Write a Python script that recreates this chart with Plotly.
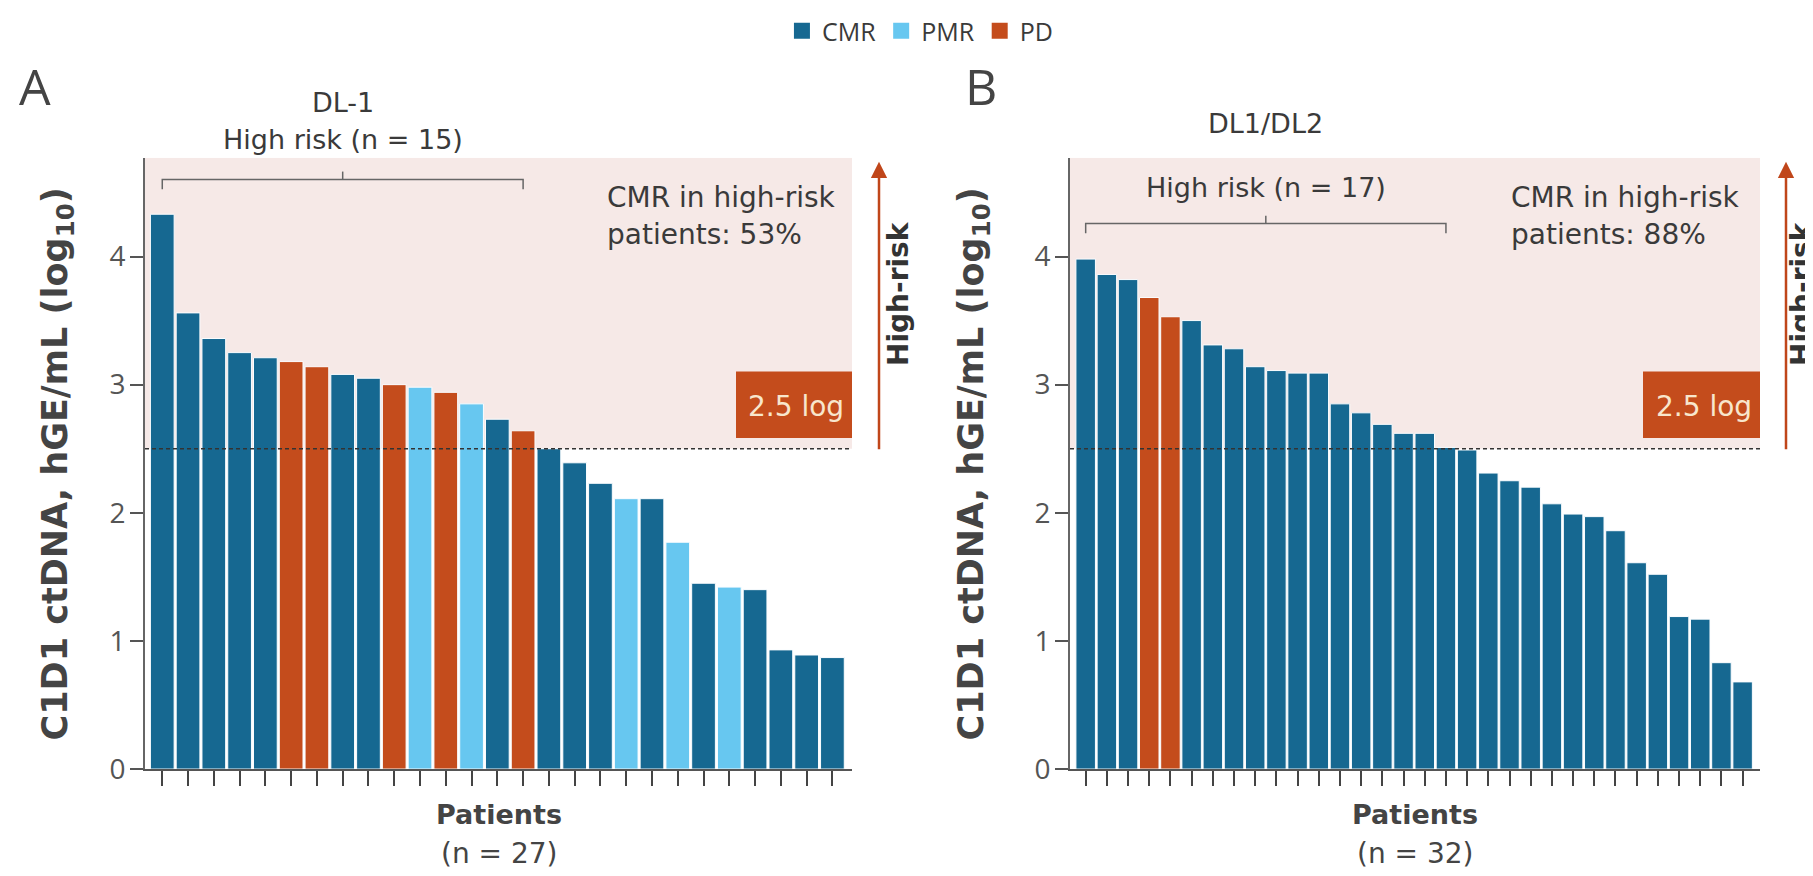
import plotly.graph_objects as go

# ---------------- data ----------------
status_a = ["CMR", "CMR", "CMR", "CMR", "CMR", "PD", "PD", "CMR", "CMR", "PD",
            "PMR", "PD", "PMR", "CMR", "PD", "CMR", "CMR", "CMR", "PMR", "CMR",
            "PMR", "CMR", "PMR", "CMR", "CMR", "CMR", "CMR"]
values_a = [4.33, 3.56, 3.36, 3.25, 3.21, 3.18, 3.14, 3.08, 3.05, 3.00,
            2.98, 2.94, 2.85, 2.73, 2.64, 2.50, 2.39, 2.23, 2.11, 2.11,
            1.77, 1.45, 1.42, 1.40, 0.93, 0.89, 0.87]

status_b = ["CMR", "CMR", "CMR", "PD", "PD", "CMR", "CMR", "CMR", "CMR", "CMR",
            "CMR", "CMR", "CMR", "CMR", "CMR", "CMR", "CMR", "CMR", "CMR", "CMR",
            "CMR", "CMR", "CMR", "CMR", "CMR", "CMR", "CMR", "CMR", "CMR", "CMR",
            "CMR", "CMR"]
values_b = [3.98, 3.86, 3.82, 3.68, 3.53, 3.50, 3.31, 3.28, 3.14, 3.11,
            3.09, 3.09, 2.85, 2.78, 2.69, 2.62, 2.62, 2.51, 2.49, 2.31,
            2.25, 2.20, 2.07, 1.99, 1.97, 1.86, 1.61, 1.52, 1.19, 1.17,
            0.83, 0.68]

categories = ["CMR", "PMR", "PD"]
colors = {"CMR": "#166891", "PMR": "#67c7f0", "PD": "#c44c1c"}
y_ticks = [0, 1, 2, 3, 4]
threshold = 2.5
y_max = 4.77
high_risk_a = 15
high_risk_b = 17
bracket_bars_a = 15
bracket_bars_b = 18

W, H = 1813, 876
DX = -3
FONT = "DejaVu Sans"
TICKFONT = "Open Sans"
TXT = "#3a3a3a"


def px(x):
    return (x + DX) / W


def py(y):
    return 1 - y / H


fig = go.Figure()

bar_style = dict(marker_line_width=1, marker_line_color="#fbfdff", width=0.92)
for cat in categories:
    xa = [i for i, s in enumerate(status_a) if s == cat]
    ya = [values_a[i] for i in xa]
    fig.add_trace(go.Bar(x=xa, y=ya, name=cat, marker_color=colors[cat],
                         legendgroup=cat, xaxis="x", yaxis="y",
                         showlegend=False, **bar_style))
    xb = [i for i, s in enumerate(status_b) if s == cat]
    yb = [values_b[i] for i in xb]
    fig.add_trace(go.Bar(x=xb, y=yb, name=cat, marker_color=colors[cat],
                         legendgroup=cat, xaxis="x2", yaxis="y2",
                         showlegend=False, **bar_style))

# legend entries (square swatches)
for cat in categories:
    fig.add_trace(go.Scatter(x=[None], y=[None], mode="markers", name=cat,
                             legendgroup=cat, showlegend=True,
                             marker=dict(symbol="square", size=16, color=colors[cat]),
                             xaxis="x", yaxis="y"))

n_a, n_b = len(values_a), len(values_b)
dom_a = [px(140), px(847)]
dom_b = [px(1065), px(1755)]
dom_y = [py(777), py(153)]

xcommon = dict(showline=True, linecolor="#555", linewidth=2, ticks="outside",
               ticklen=15, tickwidth=2, tickcolor="#444", showgrid=False,
               zeroline=False, showticklabels=False)
ycommon = dict(showline=True, linecolor="#666", linewidth=2, ticks="outside",
               ticklen=13, tickwidth=2, tickcolor="#555", showgrid=False,
               zeroline=False, range=[0, y_max], tickvals=y_ticks,
               tickfont=dict(family=TICKFONT, size=28, color="#555"),
               ticklabelstandoff=-1)

fig.update_layout(
    width=W, height=H, margin=dict(l=0, r=0, t=0, b=0),
    paper_bgcolor="white", plot_bgcolor="rgba(0,0,0,0)",
    barmode="overlay",
    xaxis=dict(domain=dom_a, range=[-0.67, n_a - 1 + 0.76],
               tickvals=list(range(n_a)), anchor="y", **xcommon),
    yaxis=dict(domain=dom_y, anchor="x", **ycommon),
    xaxis2=dict(domain=dom_b, range=[-0.74, n_b - 1 + 0.82],
                tickvals=list(range(n_b)), anchor="y2", **xcommon),
    yaxis2=dict(domain=dom_y, anchor="x2", **ycommon),
    legend=dict(orientation="h", x=0.503, xanchor="center", y=1.0, yanchor="top",
                font=dict(family=TICKFONT, size=25, color=TXT), itemwidth=30,
                traceorder="normal", bgcolor="rgba(0,0,0,0)"),
    font=dict(family=FONT, color=TXT),
)

shapes = []
annotations = []

panels = [
    dict(xr="x", yr="y", n_hr=high_risk_a, nb=bracket_bars_a, box=(731, 847),
         arrow_x=874, hr_text_x=894, cmr_x=600, pct="53%", letter="A",
         letter_x=30, title_x=52, center=494, n=n_a,
         bracket_y=175, label_lines=[("DL-1", 96), ("High risk (n = %d)" % high_risk_a, 134)]),
    dict(xr="x2", yr="y2", n_hr=high_risk_b, nb=bracket_bars_b, box=(1638, 1755),
         arrow_x=1781, hr_text_x=1797, cmr_x=1504, pct="88%", letter="B",
         letter_x=976, title_x=968, center=1410, n=n_b,
         bracket_y=220, label_lines=[("DL1/DL2", 118), ("High risk (n = %d)" % high_risk_b, 183)]),
]

for p in panels:
    xr, yr = p["xr"], p["yr"]
    # shaded high-risk area
    shapes.append(dict(type="rect", xref=xr + " domain", yref=yr, x0=0, x1=1,
                       y0=threshold, y1=y_max, fillcolor="#f6e9e7",
                       line_width=0, layer="below"))
    # threshold dashed line
    shapes.append(dict(type="line", xref=xr + " domain", yref=yr, x0=0, x1=1,
                       y0=threshold, y1=threshold,
                       line=dict(color="#333", width=1.6, dash="4px,3px"),
                       layer="above"))
    # 2.5 log box
    shapes.append(dict(type="rect", xref="paper", yref="paper",
                       x0=px(p["box"][0]), x1=px(p["box"][1]),
                       y0=py(439), y1=py(371), fillcolor="#c44c1c",
                       line_width=0, layer="above"))
    annotations.append(dict(xref="paper", yref="paper",
                            x=px(p["box"][1] - 6), y=py(407),
                            xanchor="right", yanchor="middle", showarrow=False,
                            text="2.5 log",
                            font=dict(family=FONT, size=28, color="#f8e6cc")))
    # bracket
    by = p["bracket_y"]
    x_end = p["nb"] - 1
    x_mid = x_end / 2
    shapes.append(dict(type="path", xref=xr, yref="paper",
                       path="M 0,%f L 0,%f L %f,%f L %f,%f" % (
                           py(by + 10), py(by), x_end, py(by), x_end, py(by + 10)),
                       line=dict(color="#666", width=1.5)))
    shapes.append(dict(type="line", xref=xr, yref="paper", x0=x_mid, x1=x_mid,
                       y0=py(by), y1=py(by - 8), line=dict(color="#666", width=1.5)))
    # bracket labels
    for text, yy in p["label_lines"]:
        annotations.append(dict(xref=xr, yref="paper", x=x_mid, y=py(yy),
                                xanchor="center", yanchor="middle", showarrow=False,
                                text=text, font=dict(family=FONT, size=27, color=TXT)))
    # CMR text
    annotations.append(dict(xref="paper", yref="paper", x=px(p["cmr_x"]), y=py(193),
                            xanchor="left", yanchor="middle", showarrow=False,
                            text="CMR in high-risk",
                            font=dict(family=FONT, size=28, color=TXT)))
    annotations.append(dict(xref="paper", yref="paper", x=px(p["cmr_x"]), y=py(231),
                            xanchor="left", yanchor="middle", showarrow=False,
                            text="patients: " + p["pct"],
                            font=dict(family=FONT, size=28, color=TXT)))
    # arrow
    annotations.append(dict(xref="paper", yref="paper", x=px(p["arrow_x"]), y=py(157),
                            ax=0, ay=446 - 157, axref="pixel", ayref="pixel",
                            showarrow=True, arrowhead=2, arrowsize=1.3,
                            arrowwidth=2.5, arrowcolor="#c0461a", text=""))
    annotations.append(dict(xref="paper", yref="paper", x=px(p["hr_text_x"]), y=py(292),
                            xanchor="center", yanchor="middle", showarrow=False,
                            text="<b>High-risk</b>", textangle=-90,
                            font=dict(family=FONT, size=28, color="#333")))
    # panel letter
    annotations.append(dict(xref="paper", yref="paper", x=px(p["letter_x"]), y=py(80),
                            xanchor="center", yanchor="middle", showarrow=False,
                            text=p["letter"], font=dict(family=TICKFONT, size=50, color="#444")))
    # y title
    annotations.append(dict(xref="paper", yref="paper", x=px(p["title_x"]), y=py(466),
                            xanchor="center", yanchor="middle", showarrow=False,
                            text="<b>C1D1 ctDNA, hGE/mL (log<sub>10</sub>)</b>",
                            textangle=-90,
                            font=dict(family=FONT, size=35, color="#444")))
    # x title
    annotations.append(dict(xref="paper", yref="paper", x=px(p["center"]), y=py(823),
                            xanchor="center", yanchor="middle", showarrow=False,
                            text="<b>Patients</b>",
                            font=dict(family=FONT, size=27, color="#444")))
    annotations.append(dict(xref="paper", yref="paper", x=px(p["center"]), y=py(863),
                            xanchor="center", yanchor="middle", showarrow=False,
                            text="(n = %d)" % p["n"],
                            font=dict(family=FONT, size=28, color="#444")))

fig.update_layout(shapes=shapes, annotations=annotations)
fig.write_html("out.html")
